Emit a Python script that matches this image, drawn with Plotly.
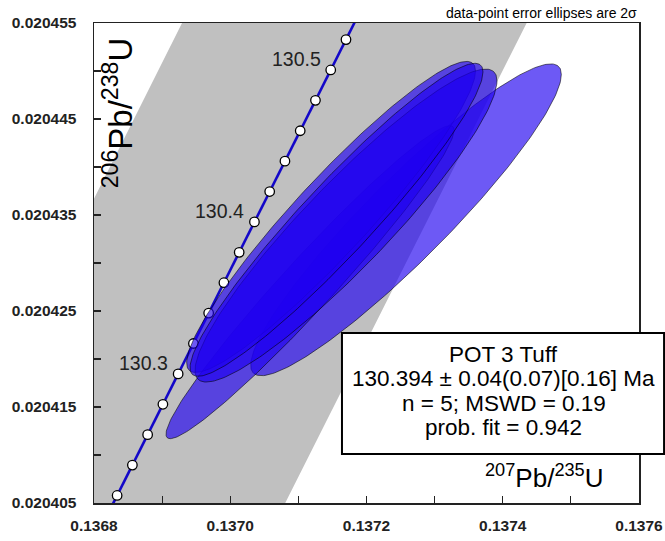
import numpy as np
import plotly.graph_objects as go

# ---------------- data ----------------
# U-Pb analyses (207Pb/235U, 1s abs, 206Pb/238U, 1s abs, rho)
r75 = [0.1372580, 0.1371171, 0.1371480, 0.1371699, 0.1371560]
s75 = [0.0001140, 0.0001057, 0.0001060, 0.0001108, 0.0001075]
r68 = [0.0204345, 0.0204280, 0.0204348, 0.0204339, 0.0204345]
s68 = [0.00000812, 0.00000815, 0.00000810, 0.00000815, 0.00000815]
rho = [0.932, 0.971, 0.938, 0.925, 0.945]

# concordia age markers (Ma)
marker_ages = [130.22, 130.24, 130.26, 130.28, 130.30, 130.32, 130.34, 130.36,
               130.38, 130.40, 130.42, 130.44, 130.46, 130.48, 130.50, 130.52]
label_ages = [130.3, 130.4, 130.5]
label_text = ["130.3", "130.4", "130.5"]

# decay constants (Jaffey et al. 1971) and 2-sigma relative uncertainties
lam238 = 1.55125e-10
lam235 = 9.8485e-10
rel238_2s = 0.00107
rel235_2s = 0.00136

x_ticks = [0.1368, 0.1370, 0.1372, 0.1374, 0.1376]
y_ticks = [0.020405, 0.020415, 0.020425, 0.020435, 0.020445, 0.020455]

box_lines = ["POT 3 Tuff", "130.394 ± 0.04(0.07)[0.16] Ma",
             "n = 5; MSWD = 0.19", "prob. fit = 0.942"]

FONT = "Liberation Sans, Arial, sans-serif"


def conc(t_ma):
    t = np.asarray(t_ma) * 1e6
    return np.exp(lam235 * t) - 1, np.exp(lam238 * t) - 1


fig = go.Figure()

# decay-constant uncertainty band
tb = np.linspace(129.9, 130.8, 200)
xb, yb = conc(tb)
dx = (1 + xb) * np.log(1 + xb) * rel235_2s
dy = (1 + yb) * np.log(1 + yb) * rel238_2s
slope = (lam238 * (1 + yb)) / (lam235 * (1 + xb))
hw = np.sqrt(dx ** 2 + (dy / slope) ** 2)
fig.add_trace(go.Scatter(
    x=np.concatenate([xb - hw, (xb + hw)[::-1]]),
    y=np.concatenate([yb, yb[::-1]]),
    fill="toself", fillcolor="#c0c0c0", line=dict(width=0),
    mode="lines", hoverinfo="skip", showlegend=False))

# concordia curve
tc = np.linspace(130.15, 130.6, 100)
xc, yc = conc(tc)
fig.add_trace(go.Scatter(x=xc, y=yc, mode="lines",
                         line=dict(color="#1408c8", width=2.6),
                         hoverinfo="skip", showlegend=False))
xm, ym = conc(marker_ages)
fig.add_trace(go.Scatter(x=xm, y=ym, mode="markers",
                         marker=dict(size=9.5, color="white",
                                     line=dict(color="black", width=1.3)),
                         hoverinfo="skip", showlegend=False))

# error ellipses (2 sigma)
th = np.linspace(0, 2 * np.pi, 240)
for cx, sx, cy, sy, r in zip(r75, s75, r68, s68, rho):
    ex = cx + 2 * sx * np.cos(th)
    ey = cy + 2 * sy * (r * np.cos(th) + np.sqrt(1 - r ** 2) * np.sin(th))
    fig.add_trace(go.Scatter(x=ex, y=ey, mode="lines", fill="toself",
                             fillcolor="rgba(30,0,240,0.65)",
                             line=dict(color="rgba(0,0,0,0.55)", width=1),
                             hoverinfo="skip", showlegend=False))

annotations = []
xl, yl = conc(label_ages)
for x0, y0, txt in zip(xl, yl, label_text):
    annotations.append(dict(x=x0, y=y0, xref="x", yref="y", text=txt,
                            showarrow=False, xanchor="right", yanchor="middle",
                            xshift=-8, yshift=11,
                            font=dict(family=FONT, size=19.5, color="#222")))

annotations.append(dict(xref="paper", yref="paper", x=0.044, y=0.812,
                        text="<sup>206</sup>Pb/<sup>238</sup>U", textangle=-90,
                        showarrow=False, xanchor="center", yanchor="middle",
                        font=dict(family=FONT, size=33, color="black")))
annotations.append(dict(xref="paper", yref="paper", x=0.827, y=0.056,
                        text="<sup>207</sup>Pb/<sup>235</sup>U",
                        showarrow=False, xanchor="center", yanchor="middle",
                        font=dict(family=FONT, size=26, color="black")))
annotations.append(dict(xref="paper", yref="paper", x=1.0, y=1.0,
                        text="data-point error ellipses are 2σ",
                        showarrow=False, xanchor="right", yanchor="bottom", yshift=0,
                        font=dict(family=FONT, size=14, color="black")))

# result box: frame + centred lines
box_line_y = [0.3104, 0.2604, 0.2083, 0.1563]
for txt, yy in zip(box_lines, box_line_y):
    annotations.append(dict(xref="paper", yref="paper", x=0.752, y=yy,
                            text=txt, showarrow=False,
                            xanchor="center", yanchor="middle",
                            font=dict(family=FONT, size=22.5, color="black")))

shapes = [dict(type="rect", xref="paper", yref="paper",
               x0=0.455, x1=1.046, y0=0.102, y1=0.354,
               line=dict(color="black", width=2), fillcolor="white",
               layer="above")]

axis_common = dict(showgrid=False, zeroline=False, showline=True, mirror=True,
                   automargin=False,
                   linecolor="#222", linewidth=1.5, ticks="inside", ticklen=7,
                   tickcolor="#222", tickwidth=1.2,
                   tickfont=dict(family=FONT, size=15.5, color="#222"))

fig.update_layout(
    width=665, height=541,
    margin=dict(l=94, r=26, t=23, b=38, autoexpand=False),
    paper_bgcolor="white", plot_bgcolor="white",
    xaxis=dict(range=[0.1368, 0.1376], tickvals=x_ticks,
               ticktext=["<b>%.4f</b>" % v for v in x_ticks],
               ticklabelstandoff=8, ticklabeloverflow="allow",
               minor=dict(dtick=0.0001, tick0=0.1368, ticks="inside", ticklen=7,
                          tickcolor="#222", tickwidth=1.2),
               **axis_common),
    yaxis=dict(range=[0.020405, 0.020455], tickvals=y_ticks,
               ticktext=["<b>%.6f</b>" % v for v in y_ticks],
               ticklabelstandoff=13, ticklabeloverflow="allow",
               minor=dict(dtick=0.000005, tick0=0.020405, ticks="inside", ticklen=7,
                          tickcolor="#222", tickwidth=1.2),
               **axis_common),
    annotations=annotations,
    shapes=shapes,
    showlegend=False,
    hovermode=False,
)

# remove the browser's default 8px page margin so the figure fills the window
fig.write_html("out.html",
               config={"displayModeBar": False, "staticPlot": True},
               post_script="document.body.style.margin='0';"
                           "document.body.style.overflow='hidden';")
